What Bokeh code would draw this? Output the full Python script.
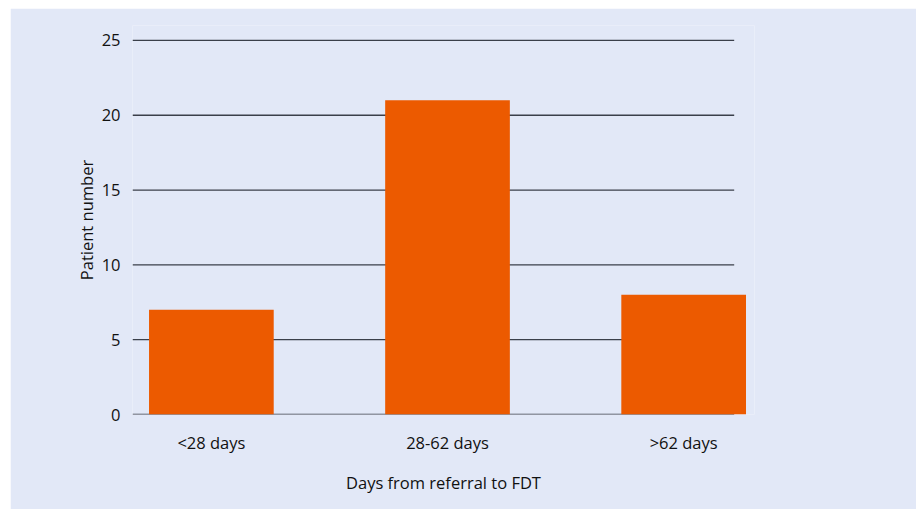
from bokeh.plotting import figure
from bokeh.models import FixedTicker, ColumnDataSource, Range1d
from bokeh.embed import file_html
from bokeh.resources import INLINE

categories = ["<28 days", "28-62 days", ">62 days"]
patients = [7, 21, 8]
y_ticks = [0, 5, 10, 15, 20, 25]

BG = "#e2e8f7"
BAR = "#ec5a00"
GRID = "#3a3f4a"
FONT = "Open Sans"

x_pos = list(range(len(categories)))
x_start, x_end = -0.334, 2.3
grid_end = 2.214

p = figure(width=906, height=501, output_backend="svg", toolbar_location=None,
           x_range=Range1d(x_start, x_end), y_range=Range1d(0, 26),
           min_border_left=122, min_border_right=162, min_border_top=17,
           min_border_bottom=95)
p.margin = (8, 0, 0, 10)
p.background_fill_color = BG
p.border_fill_color = BG
p.outline_line_color = None
p.xgrid.visible = False
p.ygrid.visible = False

grid_src = ColumnDataSource(dict(x0=[x_start] * len(y_ticks), x1=[grid_end] * len(y_ticks),
                                 y=y_ticks))
p.segment(x0="x0", x1="x1", y0="y", y1="y", source=grid_src, line_color=GRID, line_width=1.3)

src = ColumnDataSource(dict(x=x_pos, top=patients))
p.vbar(x="x", top="top", width=0.528, bottom=0, source=src, fill_color=BAR, line_color=None)

p.xaxis.ticker = FixedTicker(ticks=x_pos)
p.xaxis.major_label_overrides = {i: c for i, c in enumerate(categories)}
p.yaxis.ticker = FixedTicker(ticks=y_ticks)

for ax in (p.xaxis, p.yaxis):
    ax.axis_line_color = None
    ax.major_tick_line_color = None
    ax.minor_tick_line_color = None
    ax.major_label_text_font = FONT
    ax.major_label_text_font_size = "16.5px"
    ax.major_label_text_color = "#111111"
    ax.axis_label_text_font = FONT
    ax.axis_label_text_font_size = "16.5px"
    ax.axis_label_text_font_style = "normal"
    ax.axis_label_text_color = "#111111"

p.xaxis.axis_label = "Days from referral to FDT"
p.yaxis.axis_label = "Patient number"
p.xaxis.major_label_standoff = 10
p.xaxis.axis_label_standoff = 14
p.yaxis.major_label_standoff = 6
p.yaxis.axis_label_standoff = 1

open("out.html", "w").write(file_html(p, INLINE))
